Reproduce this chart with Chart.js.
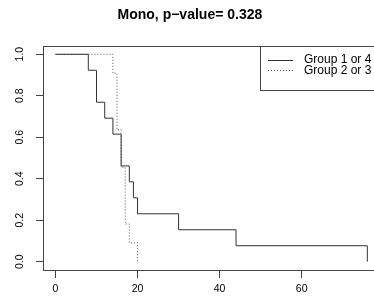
<!DOCTYPE html>
<html>
<head>
<meta charset="utf-8">
<script src="https://cdn.jsdelivr.net/npm/chart.js@4/dist/chart.umd.min.js"></script>
<style>
  html, body { margin: 0; padding: 0; background: #fff; overflow: hidden; }
  canvas { display: block; }
</style>
</head>
<body>
<canvas id="kmChart" width="390" height="304"></canvas>
<script>
// Kaplan-Meier survival steps
const group14Times = [0, 8, 10, 12, 14, 16, 18, 19, 20, 30, 44, 76];
const group14Surv  = [1, 0.923, 0.769, 0.692, 0.615, 0.462, 0.385, 0.308, 0.231, 0.154, 0.077, 0];
const group23Times = [0, 14, 15, 16, 17, 18, 20];
const group23Surv  = [1, 0.909, 0.636, 0.455, 0.182, 0.091, 0];

const seriesNames = ['Group 1 or 4', 'Group 2 or 3'];
const xTicks = [0, 20, 40, 60];
const yTicks = [0, 0.2, 0.4, 0.6, 0.8, 1.0];

const fontFamily = '"Liberation Sans", Arial, Helvetica, sans-serif';

function toPoints(times, surv) {
  return times.map((t, i) => ({ x: t, y: surv[i] }));
}

// top border of the plot box (R's box())
const boxPlugin = {
  id: 'boxTop',
  afterDraw(chart) {
    const { ctx, chartArea } = chart;
    ctx.save();
    ctx.strokeStyle = '#444';
    ctx.lineWidth = 1;
    ctx.beginPath();
    ctx.moveTo(chartArea.left, Math.round(chartArea.top) + 0.5);
    ctx.lineTo(chartArea.right, Math.round(chartArea.top) + 0.5);
    ctx.stroke();
    ctx.restore();
  }
};

// legend box in the top-right corner, like R's legend()
const legendBox = {
  id: 'legendBox',
  afterDraw(chart) {
    const { ctx, chartArea } = chart;
    const left = 260.5, top = Math.round(chartArea.top) + 0.5;
    ctx.save();
    ctx.strokeStyle = '#444';
    ctx.lineWidth = 1;
    ctx.strokeRect(left, top, 200, 44);
    chart.data.datasets.forEach((ds, i) => {
      const y = top + 13 + i * 10.5;
      ctx.strokeStyle = ds.borderColor;
      ctx.setLineDash(ds.borderDash || []);
      ctx.beginPath();
      ctx.moveTo(268, Math.round(y) + 0.5);
      ctx.lineTo(293, Math.round(y) + 0.5);
      ctx.stroke();
      ctx.setLineDash([]);
      ctx.fillStyle = '#000';
      ctx.font = '12px ' + fontFamily;
      ctx.textBaseline = 'middle';
      ctx.textAlign = 'left';
      ctx.fillText(ds.label, 304, y + 0.5);
    });
    ctx.restore();
  }
};

const ctx = document.getElementById('kmChart').getContext('2d');
new Chart(ctx, {
  type: 'line',
  data: {
    datasets: [
      {
        label: seriesNames[0],
        data: toPoints(group14Times, group14Surv),
        borderColor: '#333',
        borderWidth: 1,
        stepped: 'before',
        pointRadius: 0,
        fill: false
      },
      {
        label: seriesNames[1],
        data: toPoints(group23Times, group23Surv),
        borderColor: '#555',
        borderWidth: 1,
        borderDash: [1, 2],
        stepped: 'before',
        pointRadius: 0,
        fill: false
      }
    ]
  },
  options: {
    responsive: false,
    animation: false,
    layout: { padding: { left: 0, right: 10.2, top: 0, bottom: 0 } },
    plugins: {
      legend: { display: false },
      tooltip: { enabled: false },
      title: {
        display: true,
        text: 'Mono, p\u2212value= 0.328',
        color: '#000',
        font: { family: fontFamily, size: 14, weight: 'bold' },
        padding: { top: 6.6, bottom: 22.6 }
      }
    },
    scales: {
      x: {
        type: 'linear',
        min: -3.04,
        max: 79.04,
        afterBuildTicks: axis => { axis.ticks = xTicks.map(v => ({ value: v })); },
        afterFit: axis => { axis.height = 34; },
        grid: { drawOnChartArea: false, drawTicks: true, tickLength: 8, color: '#444' },
        border: { display: true, color: '#444', width: 1 },
        ticks: {
          color: '#000',
          padding: 5,
          maxRotation: 0,
          font: { family: fontFamily, size: 10.5 },
          callback: v => String(v)
        }
      },
      y: {
        type: 'linear',
        min: -0.04,
        max: 1.04,
        afterBuildTicks: axis => { axis.ticks = yTicks.map(v => ({ value: v })); },
        afterFit: axis => { axis.width = 43; },
        grid: { drawOnChartArea: false, drawTicks: true, tickLength: 7, color: '#444' },
        border: { display: true, color: '#444', width: 1 },
        ticks: {
          color: '#000',
          padding: 8.5,
          minRotation: 90,
          maxRotation: 90,
          crossAlign: 'center',
          font: { family: fontFamily, size: 10.5 },
          callback: v => v.toFixed(1)
        }
      }
    }
  },
  plugins: [boxPlugin, legendBox]
});
</script>
</body>
</html>
